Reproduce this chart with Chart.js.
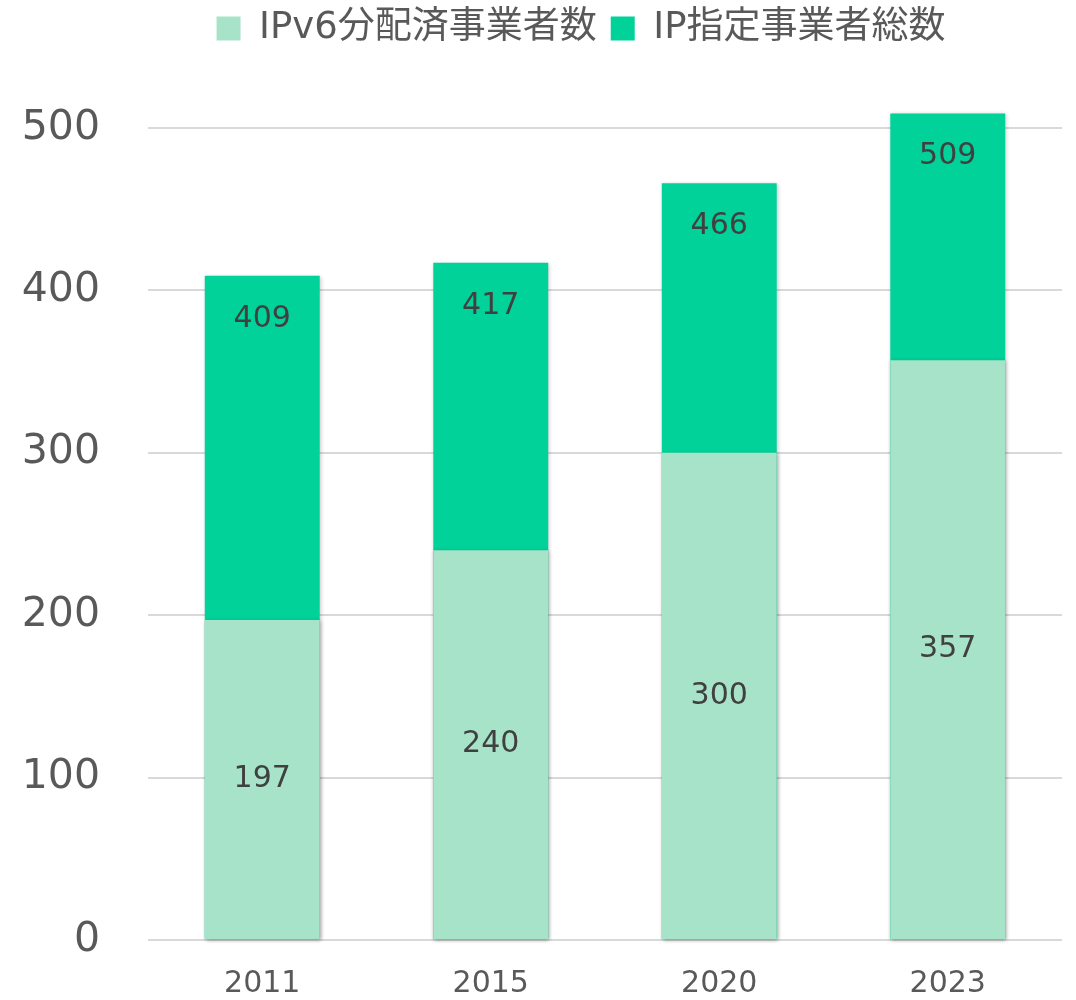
<!DOCTYPE html>
<html lang="ja">
<head>
<meta charset="utf-8">
<script src="https://cdn.jsdelivr.net/npm/chart.js@4"></script>
<style>
  body { margin: 0; background: #fff; }
  #box { width: 1076px; height: 1000px; }
</style>
</head>
<body>
<div id="box"><canvas id="grafico"></canvas></div>
<script>
  // dados
  const anos = ["2011", "2015", "2020", "2023"];
  const ipv6 = [197, 240, 300, 357];
  const total = [409, 417, 466, 509];
  const nomes = ["IPv6分配済事業者数", "IP指定事業者総数"];

  const fonte = '"DejaVu Sans", "Noto Sans CJK JP", sans-serif';

  // rótulos dentro das barras
  const rotulos = {
    id: "rotulos",
    afterDatasetsDraw(chart) {
      const ctx = chart.ctx;
      ctx.save();
      ctx.font = "30px " + fonte;
      ctx.fillStyle = "#404040";
      ctx.textAlign = "center";
      ctx.textBaseline = "middle";
      chart.data.datasets.forEach((ds, i) => {
        chart.getDatasetMeta(i).data.forEach((bar, j) => {
          const y = i === 0 ? (bar.y + bar.base) / 2 : bar.y + 43;
          ctx.fillText(ds.data[j], bar.x, y);
        });
      });
      ctx.restore();
    }
  };

  // sombra leve das barras
  const sombra = {
    id: "sombra",
    beforeDatasetsDraw(chart) {
      const ctx = chart.ctx;
      ctx.save();
      ctx.shadowColor = "rgba(0,0,0,0.22)";
      ctx.shadowBlur = 4;
      ctx.shadowOffsetX = 1;
      ctx.shadowOffsetY = 1;
    },
    afterDatasetsDraw(chart) {
      chart.ctx.restore();
    }
  };

  // legenda: mais espaço embaixo e deslocada para a direita
  const ajusteLegenda = {
    id: "ajusteLegenda",
    beforeInit(chart) {
      const leg = chart.legend;
      const fit = leg.fit;
      leg.fit = function () {
        fit.bind(leg)();
        this.height += 67;
      };
      const draw = leg.draw;
      leg.draw = function () {
        const ctx = chart.ctx;
        ctx.save();
        ctx.translate(50, -4);
        draw.apply(leg, arguments);
        ctx.restore();
      };
    }
  };

  new Chart(document.getElementById("grafico"), {
    type: "bar",
    data: {
      labels: anos,
      datasets: [
        { label: nomes[0], data: ipv6, backgroundColor: "#A7E3C9", borderWidth: 0, clip: false },
        { label: nomes[1], data: total, backgroundColor: "#00D29A", borderWidth: 0, clip: false }
      ]
    },
    options: {
      responsive: true,
      maintainAspectRatio: false,
      animation: false,
      layout: { padding: { left: 0, right: 14, top: 0, bottom: 0 } },
      datasets: { bar: { categoryPercentage: 1, barPercentage: 0.503 } },
      plugins: {
        tooltip: { enabled: false },
        legend: {
          position: "top",
          labels: {
            boxWidth: 24,
            boxHeight: 24,
            padding: 14,
            color: "#595959",
            font: { family: fonte, size: 37 }
          }
        }
      },
      scales: {
        x: {
          stacked: true,
          grid: { display: false, drawTicks: false },
          border: { display: false },
          ticks: { color: "#595959", padding: 26, font: { family: fonte, size: 30 } },
          afterFit(axis) { axis.height = 60; }
        },
        y: {
          stacked: false,
          min: 0,
          max: 500,
          grid: { color: "#D9D9D9", lineWidth: 2, drawTicks: false },
          border: { display: false },
          ticks: { stepSize: 100, color: "#595959", padding: 48, font: { family: fonte, size: 41 } },
          afterFit(axis) {
            axis.width = 148;
            axis.paddingTop = 0;
            axis.paddingBottom = 0;
          }
        }
      }
    },
    plugins: [sombra, rotulos, ajusteLegenda]
  });
</script>
</body>
</html>
